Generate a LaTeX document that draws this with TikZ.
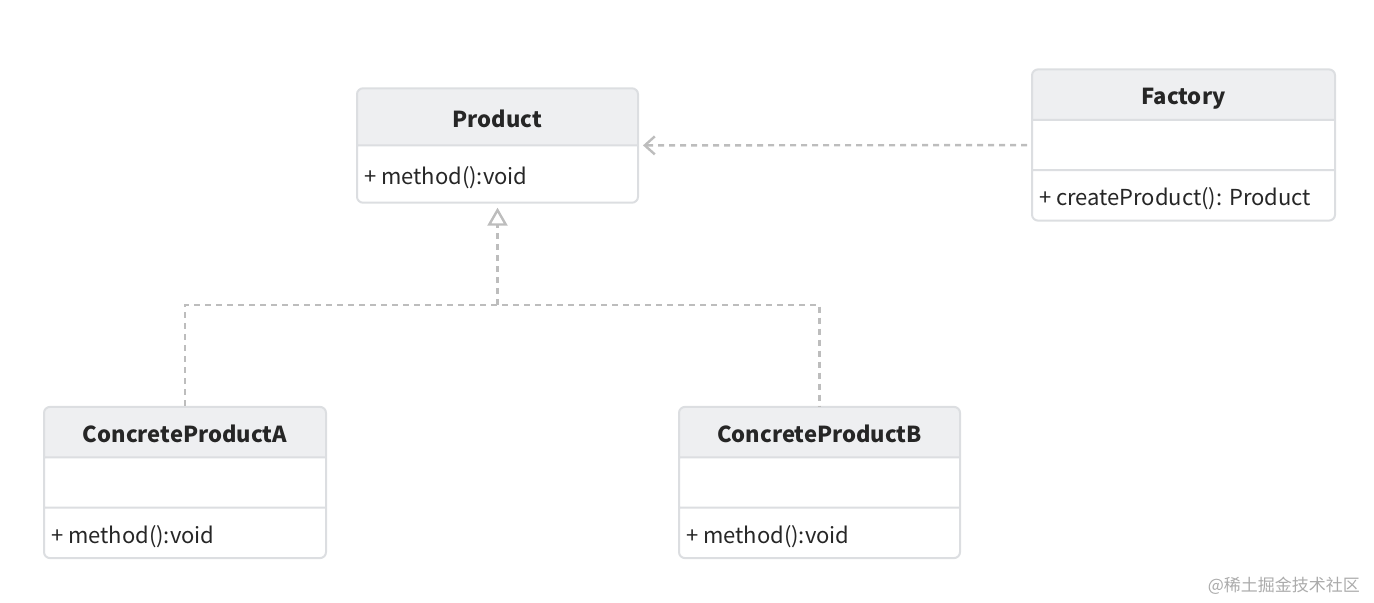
\documentclass[tikz,border=0pt]{standalone}
\usepackage{fontspec}
\setmainfont{Noto Sans CJK SC}
\usetikzlibrary{shapes.multipart}
\usetikzlibrary{arrows.meta}
\definecolor{boxline}{HTML}{DCDEE1}
\definecolor{headfill}{HTML}{EEEFF1}
\definecolor{textcol}{HTML}{262626}
\definecolor{linkcol}{HTML}{BDBDBD}
\definecolor{markcol}{HTML}{ABABAB}
\newcommand{\tallstrut}{\rule[-8.7pt]{0pt}{27.6pt}}
\newcommand{\lowstrut}{\rule[-7pt]{0pt}{24.2pt}}

\begin{document}
\begin{tikzpicture}[x=0.5pt,y=-0.5pt]
      \tikzset{
         umlbase/.style = {
            rectangle split,
            draw=boxline, line width=1pt,
            rounded corners=3pt,
            inner xsep=3.5pt, inner ysep=0pt,
            text=textcol,
            font=\fontsize{11}{13}\selectfont
         },
         uml2/.style = {
            umlbase,
            rectangle split parts=2,
            rectangle split part fill={headfill,white},
            rectangle split part align={center,left}
         },
         uml3/.style = {
            umlbase,
            rectangle split parts=3,
            rectangle split part fill={headfill,white,white},
            rectangle split part align={center,left,left}
         },
         dep/.style = {draw=linkcol, line width=1.2pt, dash pattern=on 3pt off 2.5pt}
      }
      \useasboundingbox (0,0) rectangle (1374,603);
      \node[uml2, minimum width=140.5pt] (product) at (497.5,145.5) {
        \nodepart{one}\tallstrut\textbf{Product}
        \nodepart{two}\tallstrut+ method():void
      } ;
      \node[uml3, minimum width=151.5pt] (factory) at (1183.5,145) {
        \nodepart{one}\lowstrut\textbf{Factory}
        \nodepart{two}\lowstrut
        \nodepart{three}\lowstrut+ createProduct(): Product
      } ;
      \node[uml3, minimum width=141pt] (concA) at (185,482.5) {
        \nodepart{one}\lowstrut\textbf{ConcreteProductA}
        \nodepart{two}\lowstrut
        \nodepart{three}\lowstrut+ method():void
      } ;
      \node[uml3, minimum width=140.5pt] (concB) at (819.5,482.5) {
        \nodepart{one}\lowstrut\textbf{ConcreteProductB}
        \nodepart{two}\lowstrut
        \nodepart{three}\lowstrut+ method():void
      } ;
      \coordinate (join) at (497.5,305) ;
      \draw [dep, -{Straight Barb[length=5pt,width=9pt,line width=1.2pt]}, shorten >=2pt, shorten <=2pt] (factory) -- (product) ;
      \draw [dep] (concA.north) |- (join) -| (concB.north) ;
      \draw [dep, -{Triangle[open,length=9pt,width=10pt,line width=1.2pt]}, shorten >=2pt] (join) -- (product.south) ;
      \node[text=markcol, font=\fontsize{8.5}{10}\selectfont, anchor=east] (mark) at (1367,586) {@稀土掘金技术社区} ;
    \end{tikzpicture}
\end{document}
